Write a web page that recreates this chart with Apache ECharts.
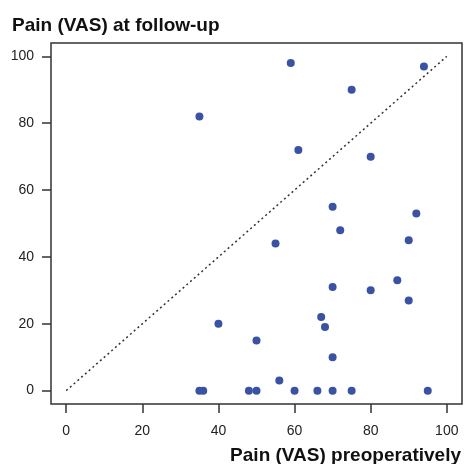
<!DOCTYPE html>
<html>
<head>
<meta charset="utf-8">
<script src="https://cdn.jsdelivr.net/npm/echarts@6/dist/echarts.min.js"></script>
<style>
  html, body { margin: 0; padding: 0; background: #fff; }
  #chart { width: 464px; height: 464px; }
</style>
</head>
<body>
<div id="chart"></div>
<script>
// pain scores per patient
const painPre = [59, 94, 75, 35, 61, 80, 70, 92, 72, 55, 90, 87, 70, 80, 90, 67, 40, 68, 50, 70, 56, 35, 36, 48, 50, 60, 66, 70, 75, 95];
const painFollowUp = [98, 97, 90, 82, 72, 70, 55, 53, 48, 44, 45, 33, 31, 30, 27, 22, 20, 19, 15, 10, 3, 0, 0, 0, 0, 0, 0, 0, 0, 0];
const identityLine = [0, 100];
const tickValues = [0, 20, 40, 60, 80, 100];

const font = 'Liberation Sans';
const ink = '#222';

const points = painPre.map((x, i) => [x, painFollowUp[i]]);

echarts.init(document.getElementById('chart'), null, { renderer: 'canvas' }).setOption({
  animation: false,
  title: [{
    text: 'Pain (VAS) at follow-up',
    left: 7,
    top: 11,
    textStyle: { fontFamily: font, fontSize: 19, fontWeight: 'bold', color: '#111' },
  }, {
    text: 'Pain (VAS) preoperatively',
    right: -2,
    top: 441,
    textStyle: { fontFamily: font, fontSize: 19, fontWeight: 'bold', color: '#111' },
  }],
  grid: {
    left: 51,
    top: 43,
    width: 411,
    height: 361,
    show: true,
    borderColor: '#333',
    borderWidth: 1.5,
  },
  xAxis: {
    type: 'value',
    min: -4,
    max: 104,
    axisLine: { show: false, onZero: false },
    splitLine: { show: false },
    axisTick: {
      customValues: tickValues,
      length: 9,
      lineStyle: { color: '#333', width: 1.5 },
    },
    axisLabel: {
      customValues: tickValues,
      margin: 20,
      fontFamily: font,
      fontSize: 14,
      color: ink,
    },
  },
  yAxis: {
    type: 'value',
    min: -4,
    max: 104,
    axisLine: { show: false, onZero: false },
    splitLine: { show: false },
    axisTick: {
      customValues: tickValues,
      length: 9,
      lineStyle: { color: '#333', width: 1.5 },
    },
    axisLabel: {
      customValues: tickValues,
      margin: 17,
      fontFamily: font,
      fontSize: 14,
      color: ink,
    },
  },
  series: [{
    type: 'line',
    data: identityLine.map(v => [v, v]),
    symbol: 'none',
    silent: true,
    z: 1,
    lineStyle: { color: '#333', width: 1.5, type: [2, 3] },
  }, {
    type: 'scatter',
    data: points,
    symbolSize: 8,
    z: 2,
    itemStyle: { color: '#3a52a4', opacity: 1 },
  }],
});
</script>
</body>
</html>
